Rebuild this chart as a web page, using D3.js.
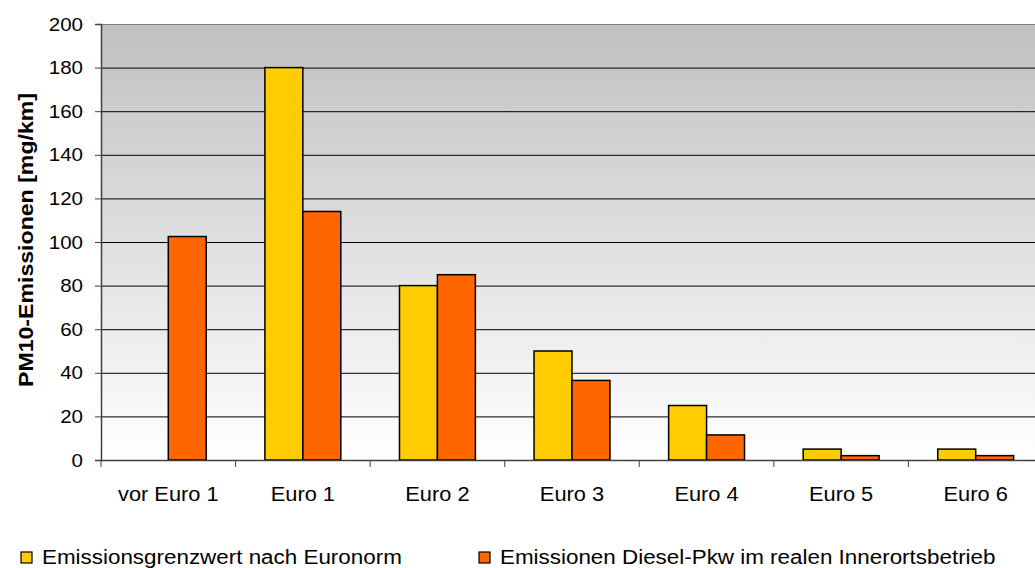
<!DOCTYPE html>
<html>
<head>
<meta charset="utf-8">
<script src="https://cdn.jsdelivr.net/npm/d3@7"></script>
<style>
  body { margin: 0; background: #fff; }
  text { font-family: Arial, "Liberation Sans", sans-serif; fill: #000; }
</style>
</head>
<body>
<svg id="chart" width="1035" height="568"></svg>
<script>
var categories = ["vor Euro 1", "Euro 1", "Euro 2", "Euro 3", "Euro 4", "Euro 5", "Euro 6"];
var grenzwert = [null, 180, 80, 50, 25, 5, 5];
var realwert = [102.5, 114, 85, 36.5, 11.5, 2, 2];
var yTicks = [0, 20, 40, 60, 80, 100, 120, 140, 160, 180, 200];
var seriesNames = ["Emissionsgrenzwert nach Euronorm", "Emissionen Diesel-Pkw im realen Innerortsbetrieb"];
var seriesColors = ["#ffcc00", "#ff6600"];

var svg = d3.select("#chart");
var plotL = 101, plotT = 24, plotB = 460, plotR = 1043;

var x = d3.scaleBand().domain(categories).range([plotL, plotR]).paddingInner(0).paddingOuter(0);
var y = d3.scaleLinear().domain([0, 200]).range([plotB, plotT]);

// stretch text a bit wider, the original renders it wide
function widen(sel, f) {
  sel.each(function() {
    var w = this.getComputedTextLength();
    d3.select(this).attr("textLength", w * f).attr("lengthAdjust", "spacingAndGlyphs");
  });
}

// background gradient
var defs = svg.append("defs");
var grad = defs.append("linearGradient").attr("id", "bg")
    .attr("x1", 0).attr("y1", 0).attr("x2", 0).attr("y2", 1);
grad.append("stop").attr("offset", "0%").attr("stop-color", "#c0c0c0");
grad.append("stop").attr("offset", "100%").attr("stop-color", "#ffffff");

svg.append("rect")
    .attr("x", plotL).attr("y", plotT)
    .attr("width", plotR - plotL).attr("height", plotB - plotT)
    .attr("fill", "url(#bg)");

// grid lines
svg.append("g").selectAll("line")
    .data(yTicks.filter(function(d) { return d > 0; }))
    .enter().append("line")
    .attr("x1", plotL).attr("x2", plotR)
    .attr("y1", function(d) { return y(d) + 0.5; })
    .attr("y2", function(d) { return y(d) + 0.5; })
    .attr("stroke", function(d) { return d == 200 ? "#808080" : "#000"; })
    .attr("stroke-width", 1);

// bars
var barW = x.bandwidth() * 0.282;
var rows = categories.map(function(c, i) {
  return { cat: c, vals: [grenzwert[i], realwert[i]] };
});
var groups = svg.append("g").selectAll("g")
    .data(rows).enter().append("g")
    .attr("transform", function(d) { return "translate(" + (x(d.cat) + x.bandwidth() / 2 - barW) + ",0)"; });

groups.selectAll("rect")
    .data(function(d) { return d.vals.map(function(v, j) { return { v: v, j: j }; }).filter(function(e) { return e.v != null; }); })
    .enter().append("rect")
    .attr("x", function(d) { return d.j * barW; })
    .attr("y", function(d) { return y(d.v); })
    .attr("width", barW)
    .attr("height", function(d) { return y(0) - y(d.v); })
    .attr("fill", function(d) { return seriesColors[d.j]; })
    .attr("stroke", "#000")
    .attr("stroke-width", 1.5);

// y axis
var yAxis = svg.append("g")
    .attr("transform", "translate(" + plotL + ",0)")
    .call(d3.axisLeft(y).tickValues(yTicks).tickSize(6).tickPadding(12));
yAxis.select(".domain").attr("stroke", "#404040").attr("stroke-width", 1.5);
yAxis.selectAll(".tick line").attr("stroke", "#404040");
yAxis.selectAll("text")
    .style("font-size", "19px")
    .style("font-family", "Arial, 'Liberation Sans', sans-serif")
    .call(widen, 1.08);

// x axis
var xAxis = svg.append("g")
    .attr("transform", "translate(0," + plotB + ")");
xAxis.append("line")
    .attr("x1", plotL).attr("x2", plotR).attr("y1", 0.5).attr("y2", 0.5)
    .attr("stroke", "#404040").attr("stroke-width", 1.5);
xAxis.selectAll("line.tk")
    .data(categories).enter().append("line")
    .attr("class", "tk")
    .attr("x1", function(d) { return x(d); }).attr("x2", function(d) { return x(d); })
    .attr("y1", 0).attr("y2", 7)
    .attr("stroke", "#404040");
xAxis.selectAll("text")
    .data(categories).enter().append("text")
    .attr("x", function(d) { return x(d) + x.bandwidth() / 2; })
    .attr("y", 41)
    .attr("text-anchor", "middle")
    .style("font-size", "20px")
    .text(function(d) { return d; })
    .call(widen, 1.09);

// y axis title
svg.append("text")
    .attr("transform", "translate(33,240) rotate(-90)")
    .attr("text-anchor", "middle")
    .style("font-size", "21px")
    .style("font-weight", "bold")
    .attr("textLength", 294)
    .attr("lengthAdjust", "spacingAndGlyphs")
    .text("PM10-Emissionen [mg/km]");

// legend
var legendX = [21, 479];
var legend = svg.append("g").selectAll("g")
    .data(seriesNames).enter().append("g")
    .attr("transform", function(d, i) { return "translate(" + legendX[i] + ",552)"; });
legend.append("rect")
    .attr("width", 11).attr("height", 11)
    .attr("fill", function(d, i) { return seriesColors[i]; })
    .attr("stroke", "#000").attr("stroke-width", 1.2);
legend.append("text")
    .attr("x", 21).attr("y", 12)
    .style("font-size", "20px")
    .text(function(d) { return d; })
    .call(widen, 1.12);
</script>
</body>
</html>
